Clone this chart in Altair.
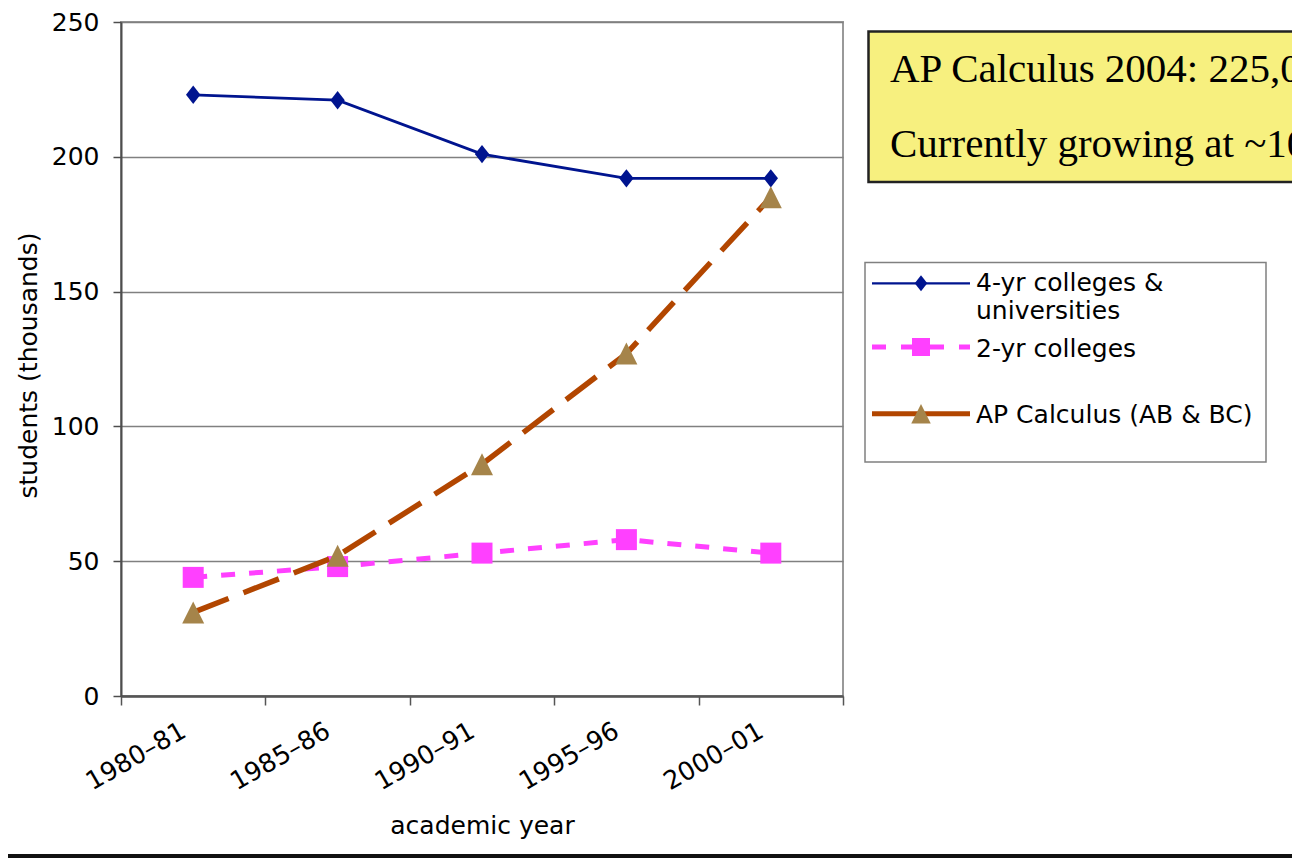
import altair as alt
import pandas as pd

# ---- data ----
years = ["1980–81", "1985–86", "1990–91", "1995–96", "2000–01"]
four_year = [223, 221, 201, 192, 192]
two_year = [44, 48, 53, 58, 53]
ap_calc = [31, 52, 86, 127, 185]
series_names = ["4-yr colleges & universities", "2-yr colleges", "AP Calculus (AB & BC)"]
legend_lines = [["4-yr colleges &", "universities"], ["2-yr colleges"], ["AP Calculus (AB & BC)"]]
y_ticks = [0, 50, 100, 150, 200, 250]
note_lines = ["AP Calculus 2004: 225,000", "Currently growing at ~10%/year"]

# ---- layout ----
W, H = 722, 674          # plot area
OX, OY = 121, 22         # plot origin on the page
TOTAL_W, TOTAL_H = 1284, 850
FONT = "DejaVu Sans"

def px(x):
    return x - OX

def py(y):
    return y - OY

NAVY = "#00148F"
MAGENTA = "#FF40FF"
BROWN = "#B24600"
TAN = "#A5844A"
TRI = "M0,-1L1,1L-1,1Z"
DIAM = "M0,-1L0.78,0L0,1L-0.78,0Z"

def frame(vals):
    return pd.DataFrame({"year": years, "value": vals})

x_enc = alt.X(
    "year:N", sort=years, bandPosition=0.5, title="academic year",
    scale=alt.Scale(type="band", domain=years, paddingInner=0, paddingOuter=0),
    axis=alt.Axis(
        tickBand="extent", labelAngle=-30, labelAlign="right", labelBaseline="top",
        labelPadding=13, labelOffset=-16, labelFontSize=25.5, labelFont=FONT, labelColor="black",
        tickSize=9, tickColor="#555555", tickWidth=1.5,
        domainColor="#555555", domainWidth=2.5, grid=False,
        titleFont=FONT, titleFontSize=25, titleFontWeight="normal", titleColor="black",
        titleX=W / 2, titleY=833 - (OY + H), titleAlign="center", titleBaseline="alphabetic",
    ),
)
y_enc = alt.Y(
    "value:Q", title="students (thousands)",
    scale=alt.Scale(domain=[0, 250], nice=False, zero=True),
    axis=alt.Axis(
        values=y_ticks, tickSize=8, tickColor="#4d4d4d", tickWidth=1.5,
        domainColor="#4d4d4d", domainWidth=2,
        grid=True, gridColor="#808080", gridWidth=1.5,
        labelFont=FONT, labelFontSize=25, labelPadding=14, labelColor="black",
        titleFont=FONT, titleFontSize=25, titleFontWeight="normal", titleColor="black",
        titleX=36 - OX, titleY=365 - OY, titleAngle=270, titleAlign="center",
        titleBaseline="alphabetic",
    ),
)

def series_layers(vals, color, width, dash, shape, size, fill):
    base = alt.Chart(frame(vals))
    line_kw = dict(color=color, strokeWidth=width)
    if dash:
        line_kw["strokeDash"] = dash
    line = base.mark_line(**line_kw).encode(x=x_enc, y=y_enc)
    pts = base.mark_point(shape=shape, size=size, filled=True, fill=fill,
                          opacity=1, strokeWidth=0).encode(x=x_enc, y=y_enc)
    return [line, pts]

layers = []
layers += series_layers(four_year, NAVY, 2.8, None, DIAM, 340, NAVY)
layers += series_layers(two_year, MAGENTA, 5, [14, 14], "square", 441, MAGENTA)
layers += series_layers(ap_calc, BROWN, 5.5, [38, 16], TRI, 484, TAN)

one = pd.DataFrame({"k": [0]})

# ---- note box (top right) ----
layers.append(alt.Chart(one).mark_rect(fill="#F7F07F", stroke="#222222", strokeWidth=2.5).encode(
    x=alt.value(px(868.5)), x2=alt.value(px(1400)), y=alt.value(py(31.5)), y2=alt.value(py(182))))
for txt, base_y in zip(note_lines, [81.7, 156.7]):
    layers.append(alt.Chart(one).mark_text(
        font="Liberation Serif", fontSize=41, align="left", baseline="alphabetic", color="black"
    ).encode(x=alt.value(px(890)), y=alt.value(py(base_y)), text=alt.value(txt)))

# ---- legend ----
layers.append(alt.Chart(one).mark_rect(fill="white", stroke="#808080", strokeWidth=1.5).encode(
    x=alt.value(px(865)), x2=alt.value(px(1266)), y=alt.value(py(262.5)), y2=alt.value(py(462))))

leg_y = [283.3, 347, 413.7]
leg_text_y = [291, 356.7, 423.3]
leg_style = [
    (NAVY, 2.2, None, DIAM, 260, NAVY),
    (MAGENTA, 5, [14, 15], "square", 324, MAGENTA),
    (BROWN, 5, None, TRI, 380, TAN),
]
for lines, ly, ty, (col, sw, dash, shape, size, fill) in zip(legend_lines, leg_y, leg_text_y, leg_style):
    kw = dict(color=col, strokeWidth=sw)
    if dash:
        kw["strokeDash"] = dash
    layers.append(alt.Chart(one).mark_rule(**kw).encode(
        x=alt.value(px(872)), x2=alt.value(px(970)), y=alt.value(py(ly))))
    layers.append(alt.Chart(one).mark_point(shape=shape, size=size, filled=True, fill=fill,
                                            opacity=1, strokeWidth=0).encode(
        x=alt.value(px(921)), y=alt.value(py(ly))))
    layers.append(alt.Chart(one).mark_text(
        font=FONT, fontSize=25, align="left", baseline="alphabetic", color="black",
        lineHeight=28.3
    ).encode(x=alt.value(px(976)), y=alt.value(py(ty)),
             text=alt.value(lines if len(lines) > 1 else lines[0])))

# ---- slide separator line at the bottom ----
layers.append(alt.Chart(one).mark_rule(color="#111111", strokeWidth=4).encode(
    x=alt.value(px(0)), x2=alt.value(px(1320)), y=alt.value(py(856))))

chart = alt.layer(*layers).properties(
    width=W, height=H,
    autosize=alt.AutoSizeParams(type="none"),
    padding={"left": OX - 8, "top": OY - 8,
             "right": TOTAL_W - (OX - 8) - W, "bottom": TOTAL_H - (OY - 8) - H},
    background="white",
).configure_view(stroke="#999999", strokeWidth=2)

chart.save("out.html", embed_options={"renderer": "svg", "actions": False})
